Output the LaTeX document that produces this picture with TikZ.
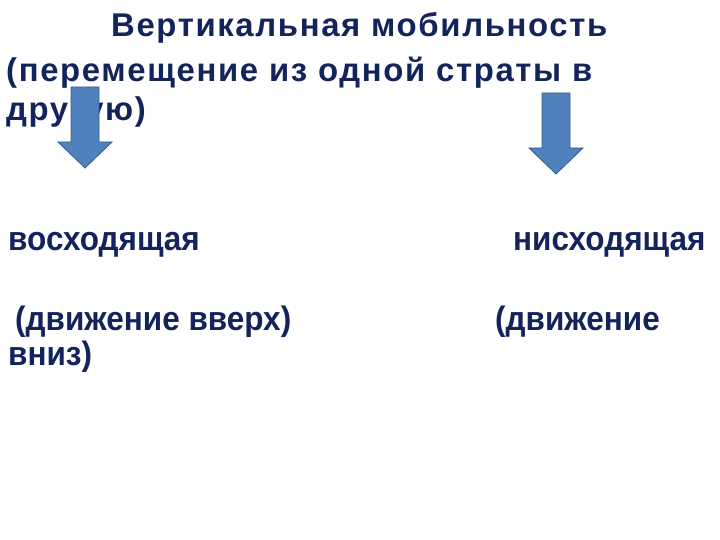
\documentclass[tikz,border=0pt]{standalone}
\usepackage{fontspec}
\setmainfont{Liberation Sans}
\newfontfamily\spacedfont[LetterSpace=5]{Liberation Sans}
\definecolor{navytext}{HTML}{13235B}
\definecolor{arrowfill}{HTML}{4F81BD}
\definecolor{arrowline}{HTML}{385D8A}
\tikzset{
  slidetext/.style={anchor=base west,inner sep=0,text=navytext,font=\fontsize{34}{40}\selectfont\bfseries},
  headtext/.style={slidetext,font=\spacedfont\fontsize{33}{39}\selectfont\bfseries},
  blockarrow/.style={fill=arrowfill,draw=arrowline,line width=.8bp,line join=miter}
}
\newcommand{\narrow}[1]{\scalebox{.93}[1]{#1}}
\begin{document}
\begin{tikzpicture}[x=1bp,y=-1bp]
    \useasboundingbox(0,0)rectangle(720,540);
    \node[headtext](title)at(111,36.5){Вертикальная мобильность};
    \node[headtext](defA)at(6,82){(перемещение из одной страты в};
    \node[headtext](defB)at(6,121){другую)};
    \node[slidetext](up)at(8,251){\narrow{восходящая}};
    \node[slidetext](down)at(513,251){\narrow{нисходящая}};
    \node[slidetext](upnote)at(15,330){\narrow{(движение вверх)}};
    \node[slidetext](downnote)at(495,330){\narrow{(движение}};
    \node[slidetext](downnoteB)at(8,365){\narrow{вниз)}};
    \coordinate(lefttip)at(85,168);
    \coordinate(righttip)at(556,174);
    \foreach\tip in{lefttip,righttip}
      \draw[blockarrow](\tip)--++(-27,-26)--++(13,0)--++(0,-55)--++(28,0)--++(0,55)--++(13,0)--cycle;
\end{tikzpicture}
\end{document}
